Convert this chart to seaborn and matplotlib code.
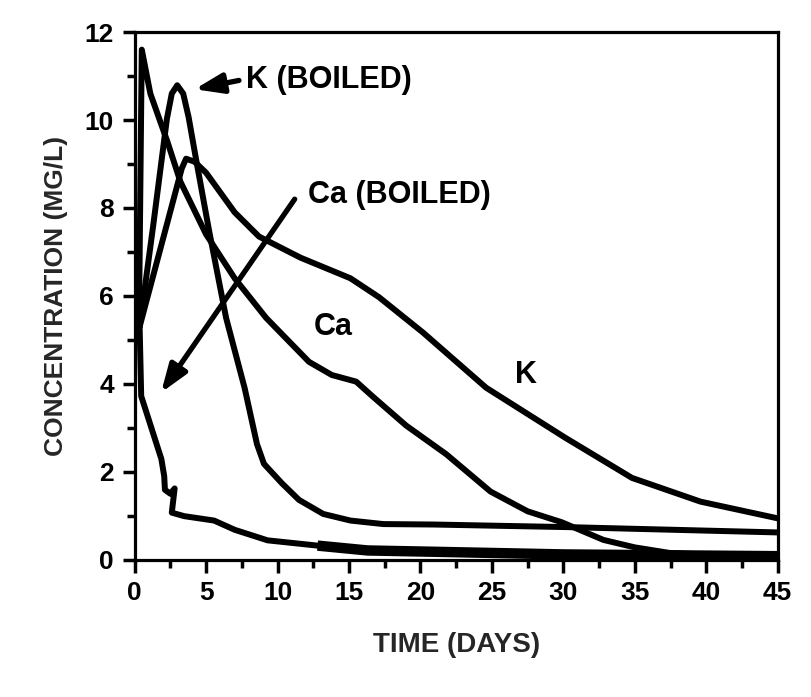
import matplotlib
matplotlib.use("Agg")
import matplotlib.pyplot as plt
import seaborn as sns
import pandas as pd

# ---- data ----
ca_days = [0.3, 0.5, 1.1, 2.3, 3.2, 5.0, 7.0, 9.2, 12.2, 13.8, 15.5, 16.7, 19.0, 21.8, 24.9, 27.5,
           29.9, 32.8, 35.0, 37.5, 41.0, 45.0]
ca_conc = [5.3, 11.6, 10.6, 9.5, 8.6, 7.4, 6.4, 5.5, 4.5, 4.2, 4.05, 3.7, 3.05, 2.4, 1.55, 1.1,
           0.85, 0.45, 0.28, 0.15, 0.1, 0.08]

k_days = [0.35, 3.3, 3.6, 4.2, 5.0, 7.0, 8.7, 11.6, 15.1, 17.1, 20.2, 24.6, 30.1, 34.8, 39.6, 45.0]
k_conc = [5.3, 8.9, 9.12, 9.05, 8.8, 7.9, 7.35, 6.87, 6.4, 5.97, 5.16, 3.91, 2.78, 1.86, 1.32, 0.94]

kb_days = [0.35, 1.3, 2.26, 2.6, 2.98, 3.4, 3.78, 4.28, 5.2, 6.4, 7.7, 8.56, 9.05, 10.3, 11.5,
           13.2, 15.1, 17.4, 20.9, 30.4, 45.0]
kb_conc = [5.3, 7.6, 10.03, 10.6, 10.79, 10.6, 10.06, 9.14, 7.5, 5.5, 3.9, 2.63, 2.18, 1.74, 1.36,
           1.04, 0.89, 0.81, 0.8, 0.74, 0.62]

cab_days = [0.35, 0.46, 1.2, 1.87, 2.07, 2.12, 2.5, 2.8, 2.6, 3.47, 5.56, 7.0, 9.3, 12.8, 16.3,
            21.0, 30.0, 45.0]
cab_conc = [5.3, 3.72, 2.97, 2.29, 1.9, 1.59, 1.5, 1.62, 1.07, 0.99, 0.89, 0.68, 0.44, 0.32, 0.21,
            0.18, 0.12, 0.08]

x_ticks = [0, 5, 10, 15, 20, 25, 30, 35, 40, 45]
y_ticks = [0, 2, 4, 6, 8, 10, 12]

sns.set_theme(style="ticks")
plt.rcParams['font.family'] = ['Liberation Sans', 'DejaVu Sans']
plt.rcParams['font.weight'] = 'bold'

fig = plt.figure(figsize=(8.11, 6.97), dpi=100)
ax = fig.add_axes([0.166, 0.197, 0.793, 0.757])

LW = 4.3
for d, c in [(ca_days, ca_conc), (k_days, k_conc), (kb_days, kb_conc), (cab_days, cab_conc)]:
    df = pd.DataFrame({"day": d, "conc": c})
    sns.lineplot(data=df, x="day", y="conc", sort=False, estimator=None,
                 color="black", lw=LW, ax=ax, legend=False,
                 solid_joinstyle="round", solid_capstyle="round")
# thick band of Ca (boiled) along the baseline
df_tail = pd.DataFrame({"day": cab_days[13:], "conc": cab_conc[13:]})
sns.lineplot(data=df_tail, x="day", y="conc", sort=False, estimator=None,
             color="black", lw=7.5, ax=ax, legend=False, solid_capstyle="butt")

ax.set_xlim(0, 45)
ax.set_ylim(0, 12)
ax.set_xticks(x_ticks)
ax.set_yticks(y_ticks)
ax.set_xticks([2.5 + 5 * i for i in range(9)], minor=True)
ax.set_yticks(list(range(1, 12, 2)), minor=True)
ax.tick_params(axis="both", which="major", direction="out", length=9, width=2.5,
               labelsize=19, color="black", labelcolor="black", pad=6)
ax.tick_params(axis="both", which="minor", direction="out", length=6, width=2.5, color="black")
for lab in ax.get_xticklabels() + ax.get_yticklabels():
    lab.set_fontweight("bold")
for s in ax.spines.values():
    s.set_visible(True)
    s.set_linewidth(2.3)
    s.set_color("black")

ax.set_xlabel("TIME (DAYS)", fontsize=20, fontweight="bold", labelpad=20)
ax.set_ylabel("CONCENTRATION (MG/L)", fontsize=19, fontweight="bold", labelpad=12)

tkw = dict(fontsize=22, fontweight="bold", color="black")
ax.text(7.8, 10.9, "K (BOILED)", ha="left", va="center", **tkw)
ax.text(12.1, 8.3, "Ca (BOILED)", ha="left", va="center", **tkw)
ax.text(13.9, 5.3, "Ca", ha="center", va="center", **tkw)
ax.text(27.4, 4.2, "K", ha="center", va="center", **tkw)

akw = dict(arrowstyle="-|>,head_length=1.4,head_width=0.5", color="black", lw=3.8,
           shrinkA=0, shrinkB=0)
ax.annotate("", xy=(4.2, 10.7), xytext=(7.3, 10.9), arrowprops=akw)
ax.annotate("", xy=(1.85, 3.8), xytext=(11.2, 8.2), arrowprops=akw)

fig.savefig("out.png", dpi=100, facecolor="white")
